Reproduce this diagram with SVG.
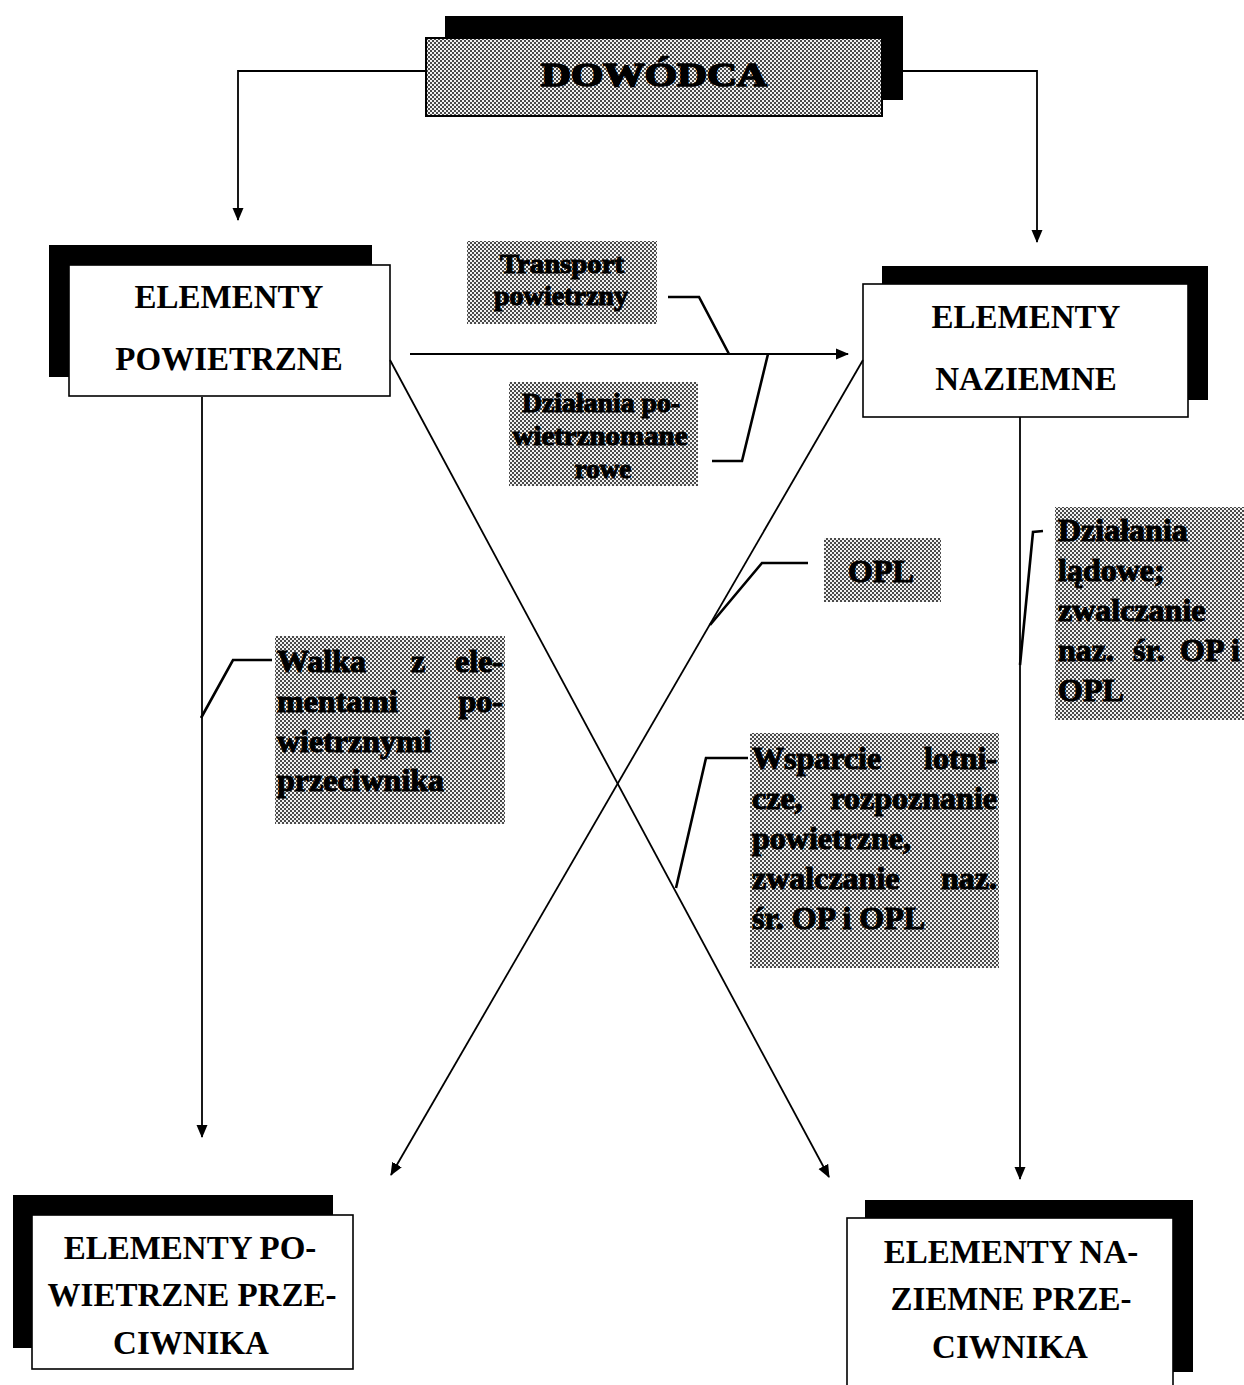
<svg xmlns="http://www.w3.org/2000/svg" width="1244" height="1385" viewBox="0 0 1244 1385">
  <defs>
    <!-- halftone stipple used for the shaded labels -->
    <pattern id="dots" width="4" height="4" patternUnits="userSpaceOnUse">
      <rect width="4" height="4" fill="#f2f2f2"/>
      <rect x="0" y="0" width="2" height="2" fill="#4a4a4a"/>
      <rect x="2" y="2" width="2" height="2" fill="#4a4a4a"/>
    </pattern>
    <marker id="arrow" markerWidth="13" markerHeight="13" viewBox="0 0 13 13" refX="12" refY="6.5" orient="auto" markerUnits="userSpaceOnUse">
      <path d="M0,1 L13,6.5 L0,12 Z" fill="#000"/>
    </marker>
  </defs>
  <style>
    .shadow { fill: #000; }
    .box { fill: #fff; stroke: #000; stroke-width: 1.6; }
    .title { font-family: "Liberation Serif", "Times New Roman", serif; font-weight: bold; font-size: 33px; fill: #000; }
    .shade { fill: url(#dots); }
    .lbl { font-family: "Liberation Serif", "Times New Roman", serif; font-weight: bold; font-size: 32px; fill: #000; stroke: #000; stroke-width: 1.1; }
    .lbl-s { font-size: 27px; }
    .conn { fill: none; stroke: #000; stroke-width: 1.8; }
    .lead { fill: none; stroke: #000; stroke-width: 2.6; }
  </style>

  <rect width="1244" height="1385" fill="#fff"/>

  <!-- commander -->
  <g id="dowodca">
    <rect class="shadow" x="445" y="16" width="458" height="84"/>
    <rect x="426" y="38" width="456" height="78" fill="url(#dots)" stroke="#000" stroke-width="2"/>
    <text class="title" x="654" y="86" text-anchor="middle" font-size="42" stroke="#000" stroke-width="1.6" textLength="226" lengthAdjust="spacingAndGlyphs">DOWÓDCA</text>
  </g>

  <!-- own air elements -->
  <g id="elementy-powietrzne">
    <rect class="shadow" x="49" y="245" width="323" height="132"/>
    <rect class="box" x="69" y="265" width="321" height="131"/>
    <text class="title" x="229" y="308" text-anchor="middle">ELEMENTY</text>
    <text class="title" x="229" y="370" text-anchor="middle">POWIETRZNE</text>
  </g>

  <!-- own ground elements -->
  <g id="elementy-naziemne">
    <rect class="shadow" x="882" y="266" width="326" height="134"/>
    <rect class="box" x="863" y="284" width="325" height="133"/>
    <text class="title" x="1026" y="328" text-anchor="middle">ELEMENTY</text>
    <text class="title" x="1026" y="390" text-anchor="middle">NAZIEMNE</text>
  </g>

  <!-- enemy air elements -->
  <g id="elementy-powietrzne-przeciwnika">
    <rect class="shadow" x="13" y="1195" width="320" height="153"/>
    <rect class="box" x="32" y="1215" width="321" height="154"/>
    <text class="title" x="190" y="1259" text-anchor="middle">ELEMENTY PO-</text>
    <text class="title" x="192" y="1306" text-anchor="middle">WIETRZNE PRZE-</text>
    <text class="title" x="191" y="1354" text-anchor="middle">CIWNIKA</text>
  </g>

  <!-- enemy ground elements -->
  <g id="elementy-naziemne-przeciwnika">
    <rect class="shadow" x="865" y="1200" width="328" height="172"/>
    <rect class="box" x="847" y="1218" width="326" height="172"/>
    <text class="title" x="1011" y="1263" text-anchor="middle">ELEMENTY NA-</text>
    <text class="title" x="1011" y="1310" text-anchor="middle">ZIEMNE PRZE-</text>
    <text class="title" x="1010" y="1358" text-anchor="middle">CIWNIKA</text>
  </g>

  <!-- connectors and label leaders -->
  <g id="connectors">
    <polyline class="conn" points="426,71 238,71 238,220" marker-end="url(#arrow)"/>
    <polyline class="conn" points="903,71 1037,71 1037,242" marker-end="url(#arrow)"/>
    <line class="conn" x1="410" y1="354" x2="848" y2="354" marker-end="url(#arrow)"/>
    <line class="conn" x1="202" y1="397" x2="202" y2="1137" marker-end="url(#arrow)"/>
    <line class="conn" x1="1020" y1="417" x2="1020" y2="1179" marker-end="url(#arrow)"/>
    <line class="conn" x1="390" y1="360" x2="829" y2="1177" marker-end="url(#arrow)"/>
    <line class="conn" x1="863" y1="360" x2="391" y2="1175" marker-end="url(#arrow)"/>

    <polyline class="lead" points="668,297 699,297 729,354"/>
    <polyline class="lead" points="712,461 742,461 768,354"/>
    <polyline class="lead" points="808,563 762,563 710,625"/>
    <polyline class="lead" points="272,660 233,660 201,718"/>
    <polyline class="lead" points="748,758 706,758 676,888"/>
    <polyline class="lead" points="1043,531 1033,532 1020,665"/>
  </g>

  <!-- shaded labels -->
  <g id="lbl-transport">
    <rect class="shade" x="467" y="241" width="190" height="83"/>
    <text class="lbl lbl-s" x="562" y="273" text-anchor="middle" textLength="124" lengthAdjust="spacingAndGlyphs">Transport</text>
    <text class="lbl lbl-s" x="561" y="305" text-anchor="middle" textLength="134" lengthAdjust="spacingAndGlyphs">powietrzny</text>
  </g>

  <g id="lbl-desant">
    <rect class="shade" x="509" y="382" width="189" height="104"/>
    <text class="lbl lbl-s" x="601" y="412" text-anchor="middle" textLength="158" lengthAdjust="spacingAndGlyphs">Działania po-</text>
    <text class="lbl lbl-s" x="600" y="445" text-anchor="middle" textLength="175" lengthAdjust="spacingAndGlyphs">wietrznomane</text>
    <text class="lbl lbl-s" x="603" y="478" text-anchor="middle">rowe</text>
  </g>

  <g id="lbl-opl">
    <rect class="shade" x="824" y="538" width="117" height="64"/>
    <text class="lbl" x="881" y="582" text-anchor="middle">OPL</text>
  </g>

  <g id="lbl-walka">
    <rect class="shade" x="275" y="636" width="230" height="188"/>
    <text class="lbl" x="277" y="672">Walka</text>
    <text class="lbl" x="418" y="672" text-anchor="middle">z</text>
    <text class="lbl" x="503" y="672" text-anchor="end">ele-</text>
    <text class="lbl" x="277" y="712">mentami</text>
    <text class="lbl" x="503" y="712" text-anchor="end">po-</text>
    <text class="lbl" x="277" y="752">wietrznymi</text>
    <text class="lbl" x="277" y="791">przeciwnika</text>
  </g>

  <g id="lbl-wsparcie">
    <rect class="shade" x="750" y="733" width="249" height="235"/>
    <text class="lbl" x="752" y="769">Wsparcie</text>
    <text class="lbl" x="997" y="769" text-anchor="end">lotni-</text>
    <text class="lbl" x="752" y="809">cze,</text>
    <text class="lbl" x="997" y="809" text-anchor="end">rozpoznanie</text>
    <text class="lbl" x="752" y="849">powietrzne,</text>
    <text class="lbl" x="752" y="889">zwalczanie</text>
    <text class="lbl" x="997" y="889" text-anchor="end">naz.</text>
    <text class="lbl" x="752" y="929">śr. OP i OPL</text>
  </g>

  <g id="lbl-ladowe">
    <rect class="shade" x="1055" y="507" width="189" height="213"/>
    <text class="lbl" x="1058" y="541">Działania</text>
    <text class="lbl" x="1058" y="581">lądowe;</text>
    <text class="lbl" x="1058" y="621">zwalczanie</text>
    <text class="lbl" x="1058" y="661">naz.</text>
    <text class="lbl" x="1133" y="661">śr.</text>
    <text class="lbl" x="1180" y="661">OP</text>
    <text class="lbl" x="1240" y="661" text-anchor="end">i</text>
    <text class="lbl" x="1058" y="701">OPL</text>
  </g>
</svg>
